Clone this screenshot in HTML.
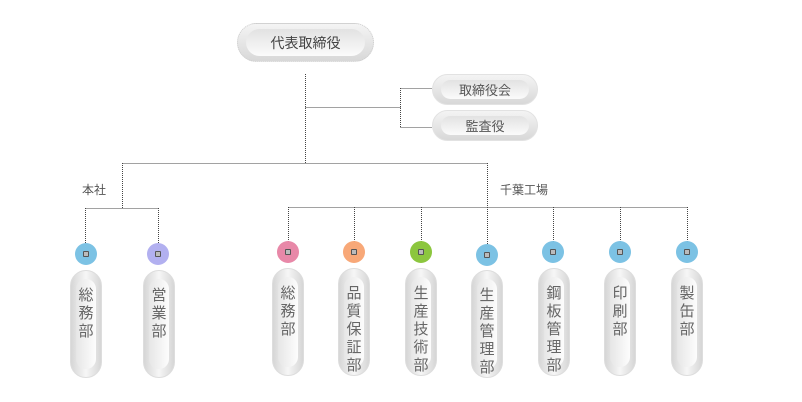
<!DOCTYPE html>
<html><head><meta charset="utf-8"><style>
body{margin:0;width:802px;height:402px;background:#fff;position:relative;overflow:hidden;font-family:"Liberation Sans","Noto Sans CJK JP",sans-serif;color:#666}
.p{position:absolute;border-radius:20px;background:linear-gradient(#f4f4f4,#d8d8d8);border:1px solid #e2e2e2;box-sizing:border-box}
.p .i{position:absolute;left:8px;right:8px;top:5px;bottom:5px;border-radius:14px;background:linear-gradient(#e2e2e2,#fbfbfb);display:flex;align-items:center;justify-content:center;font-size:13px;color:#555}
.v{position:absolute;width:32px;height:108px;border-radius:16px;background:linear-gradient(90deg,#d6d6d6,#f6f6f6 50%,#d6d6d6);border:1px solid #ddd;box-sizing:border-box}
.v .i{position:absolute;left:5px;right:5px;top:8px;bottom:8px;border-radius:10px;background:linear-gradient(90deg,#e6e6e6,#fdfdfd);font-size:15px;line-height:18px;text-align:center;padding-top:8px;color:#666;box-sizing:border-box}
.c{position:absolute;width:22px;height:22px;border-radius:50%}
.c:after{content:"";position:absolute;left:8px;top:8px;width:6px;height:6px;background:#bbb;border:1px solid #555;box-sizing:border-box;border-radius:1px}
.t{position:absolute;font-size:12px;color:#555}
</style></head><body>
<svg width="802" height="402" style="position:absolute;left:0;top:0" fill="none" stroke="#444" stroke-width="1" stroke-dasharray="1,1">
<path d="M305.5 74V163.5M305.5 107.5H400.5M400.5 88V127.5M400.5 88.5H432M400.5 127.5H432M122.5 163.5H487.5M122.5 163V208.5M85.5 208.5H158.5M85.5 208V250M158.5 208V250M487.5 163V207.5M288.5 207.5H687.5M288.5 207V250M354.5 207V250M421.5 207V250M487.5 207V253M553.5 207V250M620.5 207V250M687.5 207V250"/>
</svg>
<div class="p" style="left:237px;top:23px;width:137px;height:39px;border-style:dotted;border-color:#ccc"><div class="i" style="font-size:14px;color:#444">代表取締役</div></div>
<div class="p" style="left:432px;top:74px;width:106px;height:31px"><div class="i">取締役会</div></div>
<div class="p" style="left:432px;top:110px;width:106px;height:31px"><div class="i">監査役</div></div>
<div class="t" style="left:82px;top:181px">本社</div>
<div class="t" style="left:500px;top:181px">千葉工場</div>
<div class="c" style="left:75px;top:243px;background:#7cc2e4"></div>
<div class="c" style="left:147px;top:243px;background:#b2b0f0"></div>
<div class="c" style="left:277px;top:241px;background:#e888a8"></div>
<div class="c" style="left:343px;top:241px;background:#f8a878"></div>
<div class="c" style="left:410px;top:241px;background:#8cc63e"></div>
<div class="c" style="left:476px;top:244px;background:#7cc2e4"></div>
<div class="c" style="left:542px;top:241px;background:#7cc2e4"></div>
<div class="c" style="left:609px;top:241px;background:#7cc2e4"></div>
<div class="c" style="left:676px;top:241px;background:#7cc2e4"></div>
<div class="v" style="left:70px;top:270px"><div class="i">総務部</div></div>
<div class="v" style="left:143px;top:270px"><div class="i">営業部</div></div>
<div class="v" style="left:272px;top:268px"><div class="i">総務部</div></div>
<div class="v" style="left:338px;top:268px"><div class="i">品質保証部</div></div>
<div class="v" style="left:405px;top:268px"><div class="i">生産技術部</div></div>
<div class="v" style="left:471px;top:270px"><div class="i">生産管理部</div></div>
<div class="v" style="left:538px;top:268px"><div class="i">鋼板管理部</div></div>
<div class="v" style="left:604px;top:268px"><div class="i">印刷部</div></div>
<div class="v" style="left:671px;top:268px"><div class="i">製缶部</div></div>
</body></html>
